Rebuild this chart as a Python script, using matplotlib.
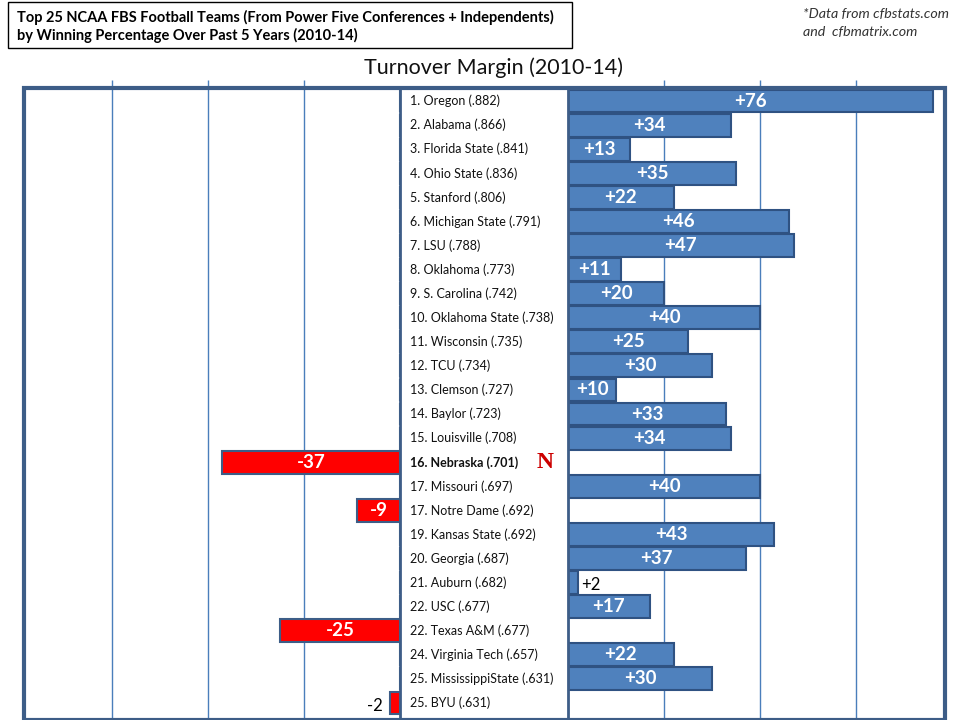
import matplotlib.pyplot as plt
from matplotlib.patches import Rectangle
from matplotlib.lines import Line2D

# team labels (rank, name, win pct) and turnover margins 2010-14
teams = [
    "1. Oregon (.882)", "2. Alabama (.866)", "3. Florida State (.841)",
    "4. Ohio State (.836)", "5. Stanford (.806)", "6. Michigan State (.791)",
    "7. LSU (.788)", "8. Oklahoma (.773)", "9. S. Carolina (.742)",
    "10. Oklahoma State (.738)", "11. Wisconsin (.735)", "12. TCU (.734)",
    "13. Clemson (.727)", "14. Baylor (.723)", "15. Louisville (.708)",
    "16. Nebraska (.701)", "17. Missouri (.697)", "17. Notre Dame (.692)",
    "19. Kansas State (.692)", "20. Georgia (.687)", "21. Auburn (.682)",
    "22. USC (.677)", "22. Texas A&M (.677)", "24. Virginia Tech (.657)",
    "25. MississippiState (.631)", "25. BYU (.631)",
]
margins = [76, 34, 13, 35, 22, 46, 47, 11, 20, 40, 25, 30, 10, 33, 34,
           -37, 40, -9, 43, 37, 2, 17, -25, 22, 30, -2]
highlight = "16. Nebraska (.701)"

W, H = 960, 720
PX_PER_UNIT = 4.8
ROW = (703 - 101) / 25

frame_l, frame_r, frame_t, frame_b = 24, 945, 88, 720
box_l, box_r = 400, 568

blue = "#4f81bd"
blue_edge = "#2f5282"
red = "#ff0000"
frame_col = "#3d5d87"
grid_col = "#4a7ebb"
font = ["Lato", "DejaVu Sans"]

fig = plt.figure(figsize=(W / 100, H / 100), dpi=100)


def fig_rect(x0, x1, y0, y1):
    return [x0 / W, 1 - y1 / H, (x1 - x0) / W, (y1 - y0) / H]


n = len(teams)
top = -(101 - frame_t) / ROW
bottom = top + (frame_b - frame_t) / ROW

ax_neg = fig.add_axes(fig_rect(frame_l, box_l, frame_t, frame_b))
ax_pos = fig.add_axes(fig_rect(box_r, frame_r, frame_t, frame_b))
ax_mid = fig.add_axes(fig_rect(box_l, box_r, frame_t, frame_b))

ax_neg.set_xlim(-(box_l - frame_l) / PX_PER_UNIT, 0)
ax_pos.set_xlim(0, (frame_r - box_r) / PX_PER_UNIT)

rows = list(range(n))
neg_vals = [m if m < 0 else 0 for m in margins]
pos_vals = [m if m > 0 else 0 for m in margins]

for ax in (ax_neg, ax_pos, ax_mid):
    ax.set_ylim(bottom, top)
    for s in ax.spines.values():
        s.set_visible(False)
    ax.set_yticks([])

for ax, ticks in ((ax_neg, [-60, -40, -20]), (ax_pos, [20, 40, 60])):
    ax.set_xticks(ticks)
    ax.grid(axis="x", color=grid_col, linewidth=1)
    ax.set_axisbelow(True)
    ax.tick_params(axis="x", bottom=False, labelbottom=False, top=True,
                   direction="out", length=6, color=grid_col, width=1)

ax_mid.set_xticks([])
ax_mid.set_xlim(0, 1)

ax_pos.barh(rows, pos_vals, height=0.95, color=blue, edgecolor=blue_edge,
            linewidth=1.5)
ax_neg.barh(rows, neg_vals, height=0.95, color=red, edgecolor=frame_col,
            linewidth=1.5)

for i, m in enumerate(margins):
    txt = f"+{m}" if m > 0 else f"{m}"
    ax = ax_pos if m > 0 else ax_neg
    if abs(m) <= 2:
        x = m + (0.8 if m > 0 else -1.5)
        ax.text(x, i + 0.12, txt, ha="left" if m > 0 else "right",
                va="center", color="black", fontsize=12, family=font)
    else:
        ax.text(m / 2, i, txt, ha="center", va="center", color="white",
                fontsize=13.5, fontweight="bold", family=font)

for i, t in enumerate(teams):
    bold = t == highlight
    ax_mid.text(10 / (box_r - box_l), i, t, ha="left", va="center",
                fontsize=9, family=font,
                fontweight="bold" if bold else "normal", color="#111111")
    if bold:
        ax_mid.text(145 / (box_r - box_l), i, "N", ha="center", va="center",
                    fontsize=17, fontweight="bold", color="#cc0000",
                    family=["Liberation Serif", "DejaVu Serif"])

# outer frame and label box borders
fig.add_artist(Rectangle((frame_l / W, 1 - frame_b / H),
                         (frame_r - frame_l) / W, (frame_b - frame_t) / H,
                         transform=fig.transFigure, fill=False,
                         edgecolor=frame_col, linewidth=3, zorder=5))
for xb in (box_l, box_r):
    fig.add_artist(Line2D([xb / W, xb / W], [1 - frame_b / H, 1 - frame_t / H],
                          transform=fig.transFigure, color=frame_col,
                          linewidth=2, zorder=5))

# headings
fig.text(493 / W, 1 - 68 / H, "Turnover Margin (2010-14)", ha="center",
         va="center", fontsize=15.5, family=font, color="#111111")

fig.add_artist(Rectangle((8 / W, 1 - 48 / H), (572 - 8) / W, (48 - 2) / H,
                         transform=fig.transFigure, fill=False,
                         edgecolor="black", linewidth=1))
fig.text(17 / W, 1 - 17 / H,
         "Top 25 NCAA FBS Football Teams (From Power Five Conferences + Independents)",
         ha="left", va="center", fontsize=10.5, fontweight="bold", family=font)
fig.text(17 / W, 1 - 35 / H,
         "by Winning Percentage Over Past 5 Years (2010-14)",
         ha="left", va="center", fontsize=10.5, fontweight="bold", family=font)

fig.text(803 / W, 1 - 14 / H, "*Data from cfbstats.com", ha="left",
         va="center", fontsize=10.3, style="italic", family=font, color="#333333")
fig.text(803 / W, 1 - 32 / H, "and  cfbmatrix.com", ha="left",
         va="center", fontsize=10.3, style="italic", family=font, color="#333333")

fig.savefig("out.png", dpi=100)
